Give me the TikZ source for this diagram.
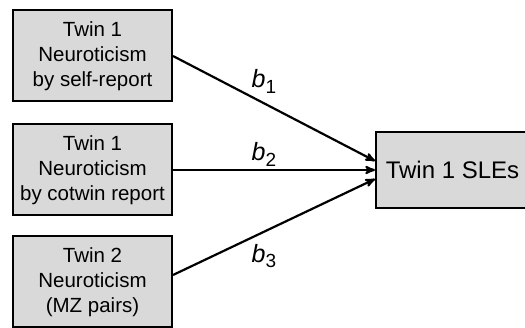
\documentclass[tikz,border=0pt]{standalone}
\usepackage{fontspec}
\setmainfont{Liberation Sans}
\usepackage{tikz}
\usetikzlibrary{arrows}
\tikzset{
    varnode/.style={align=center,inner sep=0pt,draw=black,fill=gray!30,line width=2pt,font=\fontsize{20.5}{25}\selectfont},
    inputnode/.style={varnode,minimum width=159pt,minimum height=91pt},
    outcomenode/.style={varnode,minimum width=150pt,minimum height=76pt,font=\fontsize{24}{28}\selectfont},
    pathlabel/.style={font=\fontsize{25}{28}\selectfont,inner sep=1pt}
}
\newcommand{\bpath}[1]{\textit{b}\raisebox{-0.45ex}{\fontsize{19}{19}\selectfont #1}}

\begin{document}
\begin{tikzpicture}[x=1pt,y=-1pt,->,>=stealth',line width=2.2pt]
\useasboundingbox (0,0) rectangle (525,328);

\node[inputnode](SELF) at (92.5,56) {Twin 1\\Neuroticism\\by self-report};
\node[inputnode](COTWIN) at (92.5,170) {Twin 1\\Neuroticism\\by cotwin report};
\node[inputnode](MZ) at (92.5,282) {Twin 2\\Neuroticism\\(MZ pairs)};
\node[outcomenode](SLE) at (451,170) {\hspace*{3pt}Twin 1 SLEs};

\path
(SELF.east)   edge node[pathlabel,pos=0.45,above=8pt] {\bpath{1}} ([yshift=9pt]SLE.west)
(COTWIN.east) edge node[pathlabel,pos=0.45,above=1pt]  {\bpath{2}} (SLE.west)
([yshift=7pt]MZ.east) edge node[pathlabel,pos=0.45,below=10pt] {\bpath{3}} ([yshift=-9pt]SLE.west);

\end{tikzpicture}
\end{document}
